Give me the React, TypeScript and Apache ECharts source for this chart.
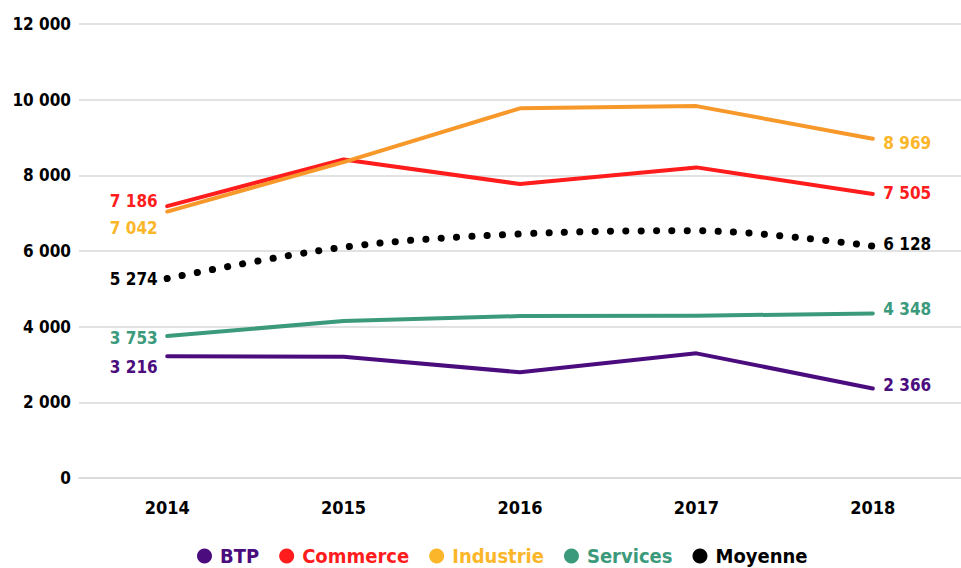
import React, { useEffect, useRef } from "react";
import * as echarts from "echarts";

const years = ["2014", "2015", "2016", "2017", "2018"];
const btp = [3216, 3205, 2795, 3295, 2366];
const commerce = [7186, 8420, 7770, 8210, 7505];
const industrie = [7042, 8350, 9770, 9830, 8969];
const services = [3753, 4150, 4280, 4290, 4348];
const moyenne = [5274, 6100, 6450, 6535, 6128];

const FONT = "'DejaVu Sans Condensed', 'DejaVu Sans', sans-serif";

const fmt = (v: number) => String(v).replace(/\B(?=(\d{3})+(?!\d))/g, " ");

function withEndLabels(values: number[], color: string, dyLeft: number, dyRight: number) {
  const last = values.length - 1;
  return values.map((v, i) => {
    if (i === 0)
      return { value: v, label: { show: true, position: "left", distance: 9, offset: [0, dyLeft], color } };
    if (i === last)
      return { value: v, label: { show: true, position: "right", distance: 10, offset: [0, dyRight], color } };
    return v;
  });
}

export default function App() {
  const ref = useRef<HTMLDivElement>(null);
  useEffect(() => {
    if (!ref.current) return;
    const chart = echarts.init(ref.current, null, { renderer: "svg" });
    const labelBase = {
      fontFamily: FONT,
      fontWeight: "bold" as const,
      fontSize: 17,
      formatter: (p: any) => fmt(p.value),
    };
    const mk = (name: string, data: number[], color: string, lineColor: string, labelColor: string, dyL: number, dyR: number, extra: any = {}) => ({
      name,
      type: "line",
      data: withEndLabels(data, labelColor, dyL, dyR),
      showSymbol: true,
      symbol: "circle",
      symbolSize: 1,
      itemStyle: { color: "rgba(0,0,0,0)", borderWidth: 0 },
      lineStyle: { color: lineColor, width: 4, cap: "round", join: "round" },
      label: { ...labelBase, show: false },
      emphasis: { disabled: true },
      z: 3,
      ...extra,
    });
    chart.setOption({
      animation: false,
      backgroundColor: "#ffffff",
      grid: { left: 79, top: 24, width: 886, height: 454 },
      xAxis: {
        type: "category",
        data: years,
        boundaryGap: true,
        axisLine: { show: true, lineStyle: { color: "#d9d9d9", width: 1.5 } },
        axisTick: { show: false },
        axisLabel: {
          margin: 20,
          fontFamily: FONT,
          fontWeight: "bold",
          fontSize: 18,
          color: "#000",
        },
      },
      yAxis: {
        type: "value",
        min: 0,
        max: 12000,
        interval: 2000,
        axisLine: { show: false },
        axisTick: { show: false },
        splitLine: { lineStyle: { color: "#d9d9d9", width: 1.5 } },
        axisLabel: {
          margin: 8,
          fontFamily: FONT,
          fontWeight: "bold",
          fontSize: 17,
          color: "#000",
          formatter: (v: number) => fmt(v),
        },
      },
      legend: {
        left: 192,
        top: 541,
        itemWidth: 15,
        itemHeight: 15,
        itemGap: 20,
        icon: "circle",
        textStyle: { fontFamily: FONT, fontWeight: "bold", fontSize: 20, padding: [0, 0, 0, 3] },
        data: [
          { name: "BTP", itemStyle: { color: "#4B0C7E" }, textStyle: { color: "#4B0C7E" } },
          { name: "Commerce", itemStyle: { color: "#FF1C1C" }, textStyle: { color: "#FF1C1C" } },
          { name: "Industrie", itemStyle: { color: "#FBB62A" }, textStyle: { color: "#FBB62A" } },
          { name: "Services", itemStyle: { color: "#3C9A7C" }, textStyle: { color: "#3C9A7C" } },
          { name: "Moyenne", itemStyle: { color: "#000000" }, textStyle: { color: "#000000" } },
        ],
      },
      series: [
        mk("BTP", btp, "#4B0C7E", "#4B0C7E", "#4B0C7E", 11, -3),
        mk("Commerce", commerce, "#FF1C1C", "#FF1C1C", "#FF1C1C", -5, -1),
        mk("Industrie", industrie, "#FBB62A", "#F7982A", "#FBB62A", 16, 4, { z: 4 }),
        mk("Services", services, "#3C9A7C", "#3C9A7C", "#3C9A7C", 2, -5),
        mk("Moyenne", moyenne, "#000000", "#000000", "#000000", 1, -2, {
          smooth: 0.35,
          lineStyle: { color: "#000", width: 7, type: [0.1, 15.3], cap: "round" },
        }),
      ],
    });
    return () => chart.dispose();
  }, []);
  return (
    <div
      ref={ref}
      style={{ position: "absolute", left: 0, top: 0, width: 961, height: 568 }}
    />
  );
}
